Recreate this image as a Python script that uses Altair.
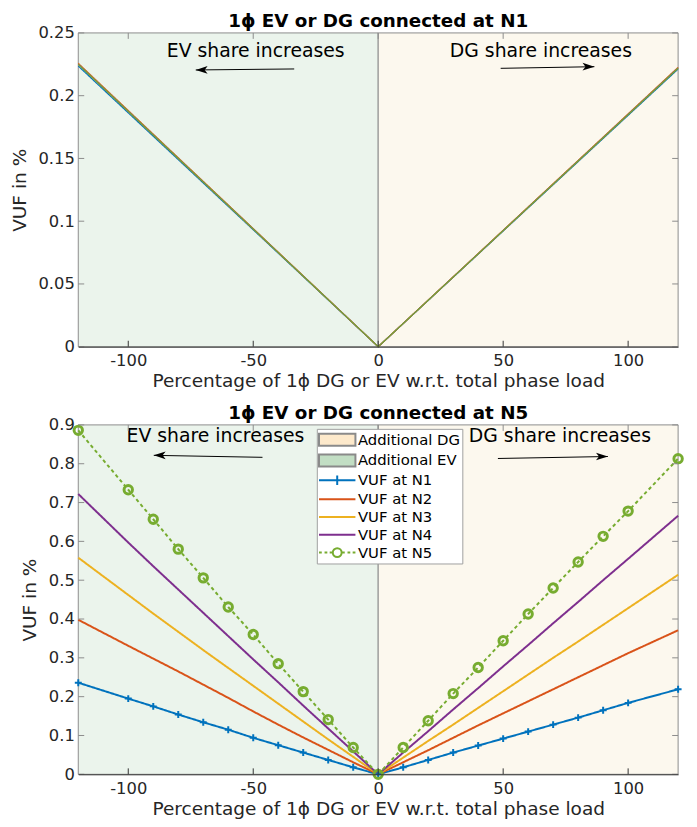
import altair as alt
import pandas as pd

FONT = "DejaVu Sans"

# ---------------- data ----------------
SERIES = ["VUF at N1", "VUF at N2", "VUF at N3", "VUF at N4", "VUF at N5"]
LEGEND_LABELS = ["Additional DG", "Additional EV"] + SERIES

# top panel (EV/DG at N1)
X_TOP = [-120, 0, 120]
N1_TOP = [0.2236, 0.0, 0.2212]
N2_TOP = [0.2258, 0.0, 0.2226]
N3_TOP = [0.2254, 0.0, 0.2223]
N4_TOP = [0.2251, 0.0, 0.2221]
N5_TOP = [0.2249, 0.0, 0.2219]

# bottom panel (EV/DG at N5)
X_BOT = [-120, -100, -90, -80, -70, -60, -50, -40, -30, -20, -10, 0,
         10, 20, 30, 40, 50, 60, 70, 80, 90, 100, 120]
N1_BOT = [0.236, 0.195, 0.175, 0.154, 0.134, 0.115, 0.094, 0.075, 0.056, 0.037, 0.018, 0.0,
          0.018, 0.037, 0.056, 0.074, 0.092, 0.110, 0.128, 0.146, 0.165, 0.184, 0.219]
N2_BOT = [0.398, 0.331, 0.298, 0.265, 0.231, 0.197, 0.162, 0.128, 0.095, 0.063, 0.031, 0.0,
          0.031, 0.062, 0.094, 0.126, 0.157, 0.188, 0.219, 0.250, 0.281, 0.312, 0.371]
N3_BOT = [0.558, 0.462, 0.414, 0.367, 0.320, 0.274, 0.228, 0.182, 0.136, 0.090, 0.045, 0.0,
          0.043, 0.086, 0.128, 0.171, 0.214, 0.257, 0.300, 0.342, 0.385, 0.428, 0.514]
N4_BOT = [0.722, 0.597, 0.536, 0.476, 0.416, 0.356, 0.296, 0.237, 0.177, 0.118, 0.059, 0.0,
          0.056, 0.111, 0.167, 0.222, 0.278, 0.333, 0.389, 0.444, 0.500, 0.555, 0.666]
N5_BOT = [0.886, 0.733, 0.657, 0.580, 0.506, 0.431, 0.360, 0.285, 0.213, 0.141, 0.069, 0.0,
          0.069, 0.138, 0.208, 0.275, 0.344, 0.413, 0.480, 0.547, 0.613, 0.678, 0.813]

X_TICKS = [-100, -50, 0, 50, 100]
Y_TICKS_TOP = [0, 0.05, 0.1, 0.15, 0.2, 0.25]
Y_TICKS_BOT = [0, 0.1, 0.2, 0.3, 0.4, 0.5, 0.6, 0.7, 0.8, 0.9]

REGION_NAMES = ["Additional EV", "Additional DG"]
REGION_X0 = [-120, 0]
REGION_X1 = [0, 120]

ANN_LABELS = ["EV share increases", "DG share increases"]
ANN_DIR = ["left", "right"]
# top panel annotation positions (data units)
ANN_TX_TOP = [-49.0, 65.1]
ANN_TY_TOP = [0.2355, 0.2355]
ARR_X0_TOP = [-33.6, 49.0]
ARR_X1_TOP = [-73.0, 86.5]
ARR_Y0_TOP = [0.2213, 0.2218]
ARR_Y1_TOP = [0.2205, 0.2231]
# bottom panel annotation positions
ANN_TX_BOT = [-65.1, 72.7]
ANN_TY_BOT = [0.870, 0.870]
ARR_X0_BOT = [-46.3, 47.9]
ARR_X1_BOT = [-89.8, 91.9]
ARR_Y0_BOT = [0.8165, 0.8135]
ARR_Y1_BOT = [0.8216, 0.8186]

# ---------------- styles ----------------
LINE_COLORS = ["#0072BD", "#D95319", "#EDB120", "#7E2F8E", "#77AC30"]
REGION_FILLS = ["#EBF4EC", "#FCF8EE"]
LEG_FILLS = ["#FDE9CB", "#C2DEC4", "transparent", "transparent", "transparent", "transparent", "transparent"]
LEG_STROKES = ["#8a8a8a", "#8a8a8a"] + LINE_COLORS

SW_PATH = "M-1.1,-0.75H3.5V0.75H-1.1Z"
LN_PATH = "M-1.1,0H3.5"
N1_PATH = "M-1.1,0H3.5M1.2,-0.6V0.6"
N5_PATH = ("M-1.1,0H-0.75M-0.4,0H-0.05M0.25,0H0.62"
           "M1.78,0H2.15M2.5,0H2.85M3.15,0H3.5"
           "M1.76,0A0.56,0.56 0 1,0 0.64,0A0.56,0.56 0 1,0 1.76,0Z")
LEG_SHAPES = [SW_PATH, SW_PATH, N1_PATH, LN_PATH, LN_PATH, LN_PATH, N5_PATH]
CROSS = "M-1,0H1M0,-1V1"
HEAD_L = "M0,0L2,-0.65L1.5,0L2,0.65Z"
HEAD_R = "M0,0L-2,-0.65L-1.5,0L-2,0.65Z"

XTITLE = "Percentage of 1ϕ DG or EV w.r.t. total phase load"


def long_df(xs, vals_list):
    rows = []
    for name, vals in zip(SERIES, vals_list):
        for x, v in zip(xs, vals):
            rows.append({"x": x, "vuf": v, "series": name})
    return pd.DataFrame(rows)


def panel(title, df, ymax, yticks, width, height, dashes, widths,
          markers, ann, legend):
    xs = alt.Scale(domain=[-120, 120], nice=False, zero=False)
    ys = alt.Scale(domain=[0, ymax], nice=False, zero=False)
    xaxis = alt.Axis(values=X_TICKS, title=XTITLE, ticks=False, grid=False,
                     domainColor="#333333", domainWidth=1, labelPadding=6,
                     titlePadding=3, zindex=1, labelFlush=False,
                     labelExpr="toString(datum.value)")
    yaxis = alt.Axis(values=yticks, title="VUF in %", ticks=False, grid=False,
                     domain=False, labelPadding=4, titlePadding=9, labelFlush=False,
                     labelExpr="toString(datum.value)")

    def X(f):
        return alt.X(f, scale=xs, axis=xaxis)

    def Y(f):
        return alt.Y(f, scale=ys, axis=yaxis)

    reg = pd.DataFrame({"x0": REGION_X0, "x1": REGION_X1, "region": REGION_NAMES,
                        "y0": [0, 0], "y1": [ymax, ymax]})
    regions = alt.Chart(reg).mark_rect(stroke="#8c8c8c", strokeWidth=1).encode(
        x=X("x0:Q"), x2="x1:Q",
        y=Y("y0:Q"), y2="y1:Q",
        fill=alt.Fill("region:N", scale=alt.Scale(domain=REGION_NAMES, range=REGION_FILLS),
                      legend=None),
    )

    lines = alt.Chart(df).mark_line().encode(
        x=X("x:Q"), y=Y("vuf:Q"),
        color=alt.Color("series:N", scale=alt.Scale(domain=SERIES, range=LINE_COLORS), legend=None),
        strokeDash=alt.StrokeDash("series:N", scale=alt.Scale(domain=SERIES, range=dashes), legend=None),
        strokeWidth=alt.StrokeWidth("series:N", scale=alt.Scale(domain=SERIES, range=widths), legend=None),
    )
    layers = [regions, lines]

    if markers:
        m1 = alt.Chart(df).transform_filter(alt.datum.series == SERIES[0]).mark_point(
            shape=CROSS, size=49, strokeWidth=2, color=LINE_COLORS[0], filled=False, opacity=1
        ).encode(x=X("x:Q"), y=Y("vuf:Q"))
        m5 = alt.Chart(df).transform_filter(alt.datum.series == SERIES[4]).mark_point(
            shape="circle", size=72, strokeWidth=3, color=LINE_COLORS[4], filled=False, opacity=1
        ).encode(x=X("x:Q"), y=Y("vuf:Q"))
        layers += [m1, m5]

    tx, ty, ax0, ax1, ay0, ay1 = ann
    adf = pd.DataFrame({"label": ANN_LABELS, "dir": ANN_DIR, "tx": tx, "ty": ty,
                        "ax0": ax0, "ax1": ax1, "ay0": ay0, "ay1": ay1})
    texts = alt.Chart(adf).mark_text(font=FONT, fontSize=19, color="#000000").encode(
        x=X("tx:Q"), y=Y("ty:Q"), text="label:N")
    arrows = alt.Chart(adf).mark_rule(color="#000000", strokeWidth=1).encode(
        x=X("ax0:Q"), x2="ax1:Q", y=Y("ay0:Q"), y2="ay1:Q")
    heads = alt.Chart(adf).mark_point(filled=True, size=144, color="#000000", opacity=1,
                                      strokeWidth=0).encode(
        x=X("ax1:Q"), y=Y("ay1:Q"),
        shape=alt.Shape("dir:N", scale=alt.Scale(domain=ANN_DIR, range=[HEAD_L, HEAD_R]), legend=None))
    layers += [texts, arrows, heads]

    # inward ticks (MATLAB style)
    xt = alt.Chart(pd.DataFrame({"v": X_TICKS}))
    yt = alt.Chart(pd.DataFrame({"v": yticks}))
    layers += [
        xt.mark_rule(color="#333333", strokeWidth=1).encode(
            x=X("v:Q"), y=alt.value(height - 6), y2=alt.value(height)),
        xt.mark_rule(color="#8c8c8c", strokeWidth=1).encode(
            x=X("v:Q"), y=alt.value(0), y2=alt.value(6)),
        yt.mark_rule(color="#8c8c8c", strokeWidth=1).encode(
            y=Y("v:Q"), x=alt.value(0), x2=alt.value(6)),
        yt.mark_rule(color="#8c8c8c", strokeWidth=1).encode(
            y=Y("v:Q"), x=alt.value(width - 6), x2=alt.value(width)),
    ]

    if legend:
        leg = alt.Legend(title=None, orient="none", legendX=241, legendY=4, direction="vertical",
                         symbolSize=256, symbolStrokeWidth=2, labelFont=FONT, labelFontSize=15,
                         labelColor="#000000", labelOffset=21.5, padding=2, rowPadding=1,
                         fillColor="#ffffff", strokeColor="#a0a0a0", labelLimit=0)
        leg_data = alt.Data(values=[{"series": s, "lx": None, "ly": None} for s in LEGEND_LABELS])
        legend_layer = alt.Chart(leg_data).mark_point(strokeWidth=2, opacity=1).encode(
            x=X("lx:Q"), y=Y("ly:Q"),
            fill=alt.Fill("series:N", scale=alt.Scale(domain=LEGEND_LABELS, range=LEG_FILLS), legend=leg),
            stroke=alt.Stroke("series:N", scale=alt.Scale(domain=LEGEND_LABELS, range=LEG_STROKES), legend=leg),
            shape=alt.Shape("series:N", scale=alt.Scale(domain=LEGEND_LABELS, range=LEG_SHAPES), legend=leg),
        )
        layers.append(legend_layer)

    return alt.layer(*layers).resolve_scale(
        fill="independent", color="independent", stroke="independent",
        shape="independent", strokeDash="independent", strokeWidth="independent",
    ).properties(
        width=width, height=height,
        title=alt.Title(title, font=FONT, fontSize=18.5, fontWeight="bold", color="#000000",
                        offset=-6, frame="group", anchor="middle"),
    )


top_df = long_df(X_TOP, [N1_TOP, N2_TOP, N3_TOP, N4_TOP, N5_TOP])
bot_df = long_df(X_BOT, [N1_BOT, N2_BOT, N3_BOT, N4_BOT, N5_BOT])

top = panel("1ϕ EV or DG connected at N1", top_df, 0.25, Y_TICKS_TOP, 606, 317,
            [[1, 0]] * 5, [1.2] * 5, False,
            (ANN_TX_TOP, ANN_TY_TOP, ARR_X0_TOP, ARR_X1_TOP, ARR_Y0_TOP, ARR_Y1_TOP), False)
bottom = panel("1ϕ EV or DG connected at N5", bot_df, 0.9, Y_TICKS_BOT, 606, 353,
               [[1, 0], [1, 0], [1, 0], [1, 0], [3.5, 3]], [2, 2, 2, 2, 3.5], True,
               (ANN_TX_BOT, ANN_TY_BOT, ARR_X0_BOT, ARR_X1_BOT, ARR_Y0_BOT, ARR_Y1_BOT), True)

chart = alt.concat(top, bottom, columns=1, spacing=13, align="none").resolve_scale(
    x="independent", y="independent", fill="independent", color="independent",
    stroke="independent", shape="independent", strokeDash="independent", strokeWidth="independent",
).properties(
    padding={"left": 2, "top": 0, "right": 0, "bottom": 0},
).configure(
    font=FONT,
).configure_axis(
    labelFont=FONT, labelFontSize=16.5, labelColor="#262626",
    titleFont=FONT, titleFontSize=18.7, titleFontWeight="normal", titleColor="#262626",
).configure_view(stroke=None)

chart.save("out.html", embed_options={"renderer": "svg", "actions": False})
